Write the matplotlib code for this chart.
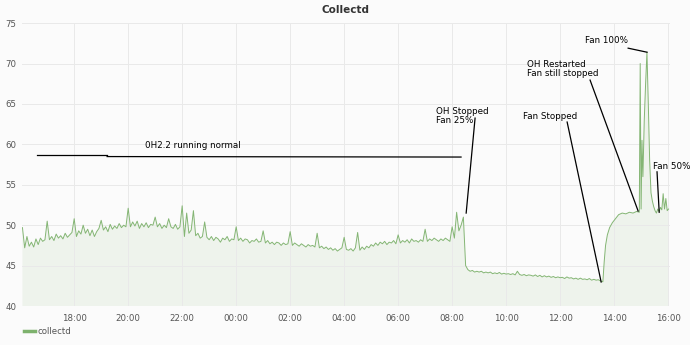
"""
Grafana-style 'Collectd' temperature panel with hand-drawn annotations.
"""
import matplotlib
matplotlib.use('Agg')
import matplotlib.pyplot as plt
import numpy as np

# --- data: hours since midnight of day 1 (values > 24 are next day) ---
# 5-minute samples, 16:05 -> 13:35 next day
start_h = 16 + 5 / 60
normal_vals = [
    49.7, 47.2, 48.6, 47.4, 47.9, 47.3, 48.3, 47.6, 48.4, 48.0, 48.2,
    50.5, 48.2, 48.6, 48.1, 48.9, 48.4, 48.7, 48.3, 49.0, 48.5, 48.8, 49.1,
    50.8, 48.6, 49.3, 48.9, 50.0, 49.0, 49.5, 48.7, 49.4, 48.6, 49.2, 49.6,
    50.6, 49.4, 49.8, 49.2, 50.1, 49.5, 49.9, 49.6, 50.2, 49.7, 50.0, 49.8,
    52.1, 49.8, 50.4, 49.9, 50.5, 49.6, 50.2, 49.8, 50.3, 49.7, 50.1, 50.0,
    51.0, 49.8, 50.2, 49.6, 50.0, 49.7, 50.8, 49.8, 49.6, 50.1, 49.5, 49.8,
    52.4, 48.6, 51.5, 49.0, 49.4, 51.8, 48.7, 49.0, 48.4, 48.6, 50.4, 48.5,
    48.2, 48.6, 48.1, 48.5, 48.3, 47.9, 48.4, 48.2, 48.6, 48.0, 48.3, 48.2,
    49.8, 48.1, 48.4, 48.0, 48.3, 48.2, 47.8, 48.1, 48.0, 48.3, 47.9, 48.0,
    49.3, 47.8, 48.1, 47.7, 47.9, 47.6, 47.9, 47.8, 47.5, 47.8, 47.6, 47.7,
    49.2, 47.5, 47.8, 47.6, 47.4, 47.7, 47.5, 47.3, 47.6, 47.4, 47.5, 47.3,
    49.0, 47.2, 47.4, 47.1, 47.3, 47.0, 47.2, 46.9, 47.1, 46.8, 47.0, 47.2,
    48.5, 47.0, 46.9, 47.1, 46.8, 47.2, 49.1, 46.9, 47.3, 47.0, 47.4, 47.2,
    47.6, 47.4, 47.8, 47.5, 47.9, 47.7, 48.0, 47.6, 47.9, 47.8, 48.1, 47.7,
    48.8, 47.8, 48.1, 47.9, 48.2, 47.8, 48.3, 48.0, 48.1, 47.9, 48.2, 48.0,
    49.5, 48.0, 48.3, 48.1, 48.4, 48.2, 48.0, 48.3, 48.1, 48.4, 48.2, 48.0,
    49.8, 48.4, 51.6, 49.3, 50.0, 51.0,
]
stopped_vals = [
    45.0, 44.5, 44.3, 44.4, 44.2, 44.3,
    44.2, 44.3, 44.1, 44.2, 44.1, 44.2, 44.0, 44.1, 44.0, 44.15, 43.95, 44.05,
    43.95, 44.0, 43.9, 44.0, 43.85, 44.3, 43.9, 43.8, 43.9, 43.75, 43.85, 43.8,
    43.7, 43.85, 43.65, 43.8, 43.6, 43.75, 43.6, 43.7, 43.55, 43.65, 43.5, 43.6,
    43.5, 43.55, 43.4, 43.6, 43.45, 43.5, 43.35, 43.45, 43.3, 43.45, 43.3, 43.35,
    43.25, 43.4, 43.2, 43.3, 43.2, 43.25, 43.1, 43.0,
]
# restart / fan tests, irregular times "HH:MM" on day 2
restart_times = [
    "13:38", "13:41", "13:45", "13:50", "13:56", "14:03", "14:10", "14:18",
    "14:26", "14:34", "14:42", "14:50", "14:56", "14:58", "15:00", "15:02",
    "15:04", "15:07", "15:10", "15:13", "15:16", "15:19", "15:22", "15:25",
    "15:28", "15:31", "15:34", "15:37", "15:40", "15:43", "15:46", "15:49",
    "15:52", "15:55", "15:58", "16:01",
]
restart_vals = [
    45.5, 47.5, 48.8, 49.7, 50.3, 50.8, 51.3, 51.5,
    51.4, 51.6, 51.5, 51.7, 51.6, 70.0, 52.0, 60.5,
    56.0, 63.0, 67.5, 71.4, 65.0, 58.0, 54.0, 53.0,
    52.3, 51.8, 51.5, 52.0, 51.7, 52.2, 51.9, 53.9,
    52.0, 53.3, 51.8, 52.0,
]

grid_vals = normal_vals + stopped_vals
t_grid = start_h + np.arange(len(grid_vals)) * 5 / 60
t_restart = [24 + int(s[:2]) + int(s[3:]) / 60 for s in restart_times]
t = np.concatenate([t_grid, t_restart])
v = np.array(grid_vals + restart_vals)

# annotations: (text, text xy, line start, line end)
notes = [
    ("OH Stopped\nFan 25%", (31.41, 63.5), (32.85, 63.25), (32.52, 51.5)),
    ("Fan Stopped", (34.63, 63.5), (36.26, 62.76), (37.52, 42.97)),
    ("OH Restarted\nFan still stopped", (34.78, 69.3), (37.11, 67.95), (38.89, 51.75)),
    ("Fan 100%", (36.93, 72.9), (38.52, 71.9), (39.22, 71.4)),
    ("Fan 50%", (39.44, 57.3), (39.59, 56.6), (39.67, 51.6)),
]

bg = '#fbfbfb'
green = '#7eb26d'

fig = plt.figure(figsize=(6.9, 3.45), dpi=100, facecolor=bg)
ax = fig.add_axes([0.032, 0.113, 0.939, 0.82], facecolor=bg)

ax.fill_between(t, v, 0, color=green, alpha=0.1, linewidth=0)
ax.plot(t, v, color=green, linewidth=0.7, alpha=0.95)

ax.set_xlim(16.07, 40.07)
ax.set_ylim(40, 75)
ticks = np.arange(18, 41, 2)
ax.set_xticks(ticks)
ax.set_xticklabels([f"{int(h) % 24:02d}:00" for h in ticks])
ax.set_yticks(np.arange(40, 76, 5))
ax.tick_params(length=0, labelsize=6.2, colors='#555555', pad=6)
ax.tick_params(axis='y', pad=4)
ax.grid(True, color='#e9e9e9', linewidth=0.7)
for sp in ax.spines.values():
    sp.set_visible(False)

# hand drawn annotations
ax.plot([16.63, 19.22], [58.68, 58.68], color='black', linewidth=0.9)
ax.plot([19.22, 32.33], [58.49, 58.43], color='black', linewidth=0.9)
ax.text(22.4, 59.9, "0H2.2 running normal", fontsize=6.3, ha='center', va='center')
for label, txy, p0, p1 in notes:
    ax.text(txy[0], txy[1], label, fontsize=6.3, ha='left', va='center', linespacing=1.0)
    ax.plot([p0[0], p1[0]], [p0[1], p1[1]], color='black', linewidth=0.9)

fig.text(0.5, 0.97, "Collectd", ha='center', va='center', fontsize=7.5,
         fontweight='bold', color='#333333')

# legend
fig.lines.append(plt.Line2D([0.035, 0.050], [0.04, 0.04], transform=fig.transFigure,
                            color=green, linewidth=2.5))
fig.text(0.055, 0.04, "collectd", ha='left', va='center', fontsize=6.2, color='#555555')

fig.savefig('out.png', dpi=100, facecolor=bg)
